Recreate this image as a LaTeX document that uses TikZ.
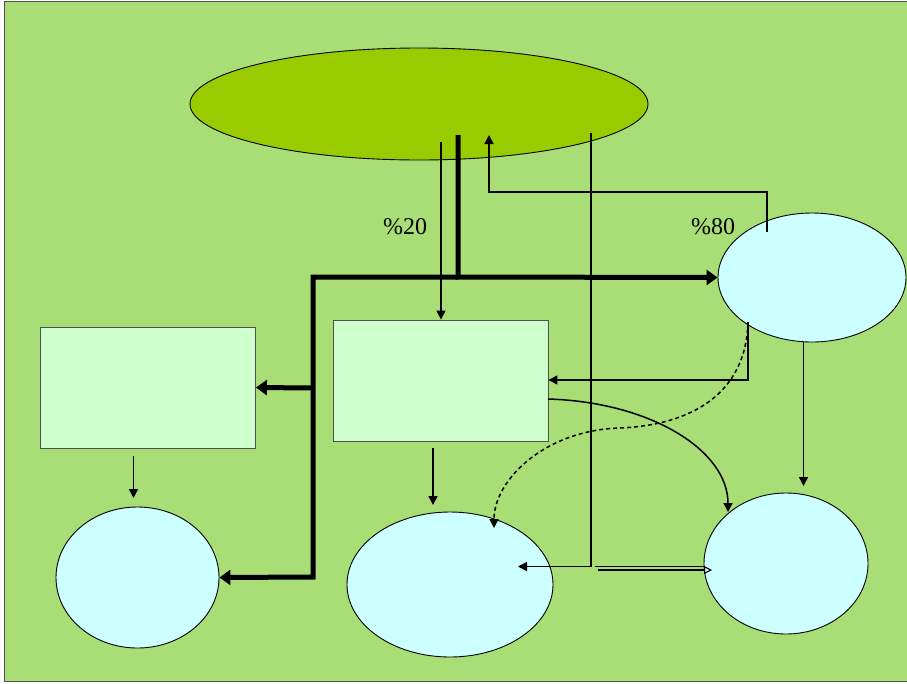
\documentclass[tikz,border=0pt]{standalone}
\usepackage{fontspec}
\setmainfont{Liberation Serif}
\usetikzlibrary{arrows.meta,shapes.geometric}
\definecolor{bggreen}{RGB}{169,221,118}
\definecolor{olive}{RGB}{153,204,0}
\definecolor{lcyan}{RGB}{204,255,255}
\definecolor{lgreen}{RGB}{204,255,204}
\definecolor{frame}{RGB}{80,80,80}
\tikzset{
  oval/.style={ellipse, draw=black, line width=0.9pt, inner sep=0pt},
  box/.style={rectangle, draw=frame, line width=0.9pt, fill=lgreen, inner sep=0pt, minimum width=215pt, minimum height=121pt},
  conn/.style={draw=black, line width=1.5pt, -{Triangle[length=9pt,width=9pt]}},
  thickflow/.style={draw=black, line width=5pt, line join=miter},
  thickarrow/.style={thickflow, -{Triangle[length=11pt,width=15pt]}},
  pct/.style={font=\fontsize{24}{28}\selectfont, inner sep=0pt}
}
\begin{document}
\begin{tikzpicture}[x=1pt,y=-1pt]
\useasboundingbox (0,0) rectangle (907,683);
\fill[white] (0,0) rectangle (907,683);
\filldraw[fill=bggreen, draw=frame, line width=1pt] (4,1) rectangle (908,681);

% shapes
\node[oval, fill=olive, minimum width=458pt, minimum height=112pt] (top) at (419,104) {};
\node[oval, fill=lcyan, minimum width=188pt, minimum height=129pt] (right) at (812,277.5) {};
\node[box] (lrect) at (148,387.5) {};
\node[box] (mrect) at (440.5,380.5) {};
\node[oval, fill=lcyan, minimum width=163pt, minimum height=141pt] (bl) at (137.5,577.5) {};
\node[oval, fill=lcyan, minimum width=206pt, minimum height=145pt] (bm) at (450,584.5) {};
\node[oval, fill=lcyan, minimum width=164pt, minimum height=141pt] (br) at (786,563.5) {};

% labels
\node[pct] (p20) at (405,227) {\%20};
\node[pct] (p80) at (713,227) {\%80};

% coordinates
\coordinate (tstart) at (458,135);
\coordinate (tj) at (458,277);
\coordinate (tl) at (313,277);
\coordinate (tb) at (313,577);
\coordinate (tm) at (313,388);
\coordinate (s20) at (441,142);
\coordinate (r1) at (767,232);
\coordinate (r2) at (767,192);
\coordinate (r3) at (489,192);
\coordinate (rend) at (489,135);
\coordinate (v1) at (591,133);
\coordinate (v2) at (591,566.5);
\coordinate (vend) at (518,566.5);
\coordinate (d1) at (595,566.5);
\coordinate (d2) at (704,566.5);
\coordinate (d3) at (598,570);
\coordinate (d4) at (712,570);
\coordinate (rb) at (748,322);
\coordinate (rc) at (748,380);
\coordinate (mid) at (620,428);
\coordinate (dend) at (494,528);
\coordinate (cstart) at (548,399);
\coordinate (cend) at (728,512);
\coordinate (rd1) at (803.5,342);
\coordinate (rd2) at (803.5,486);
\coordinate (ld1) at (133.5,456);
\coordinate (ld2) at (133.5,498);
\coordinate (md1) at (433,448);
\coordinate (md2) at (433,505);

% thick flow
\draw[thickarrow] (tstart) -- (tj) -- (right.west);
\draw[thickarrow] (tj) -- (tl) -- (tb) -- (bl.east);
\draw[thickarrow] (tm) -- (lrect.east);

% thin connectors
\draw[conn] (s20) -- (s20 |- mrect.north);
\draw[conn] (r1) -- (r2) -- (r3) -- (rend);
\draw[conn] (v1) -- (v2) -- (vend);
\draw[conn] (rb) -- (rc) -- (rc -| mrect.east);
\draw[conn, dash pattern=on 4pt off 3pt] (rb) .. controls (746,395) and (690,425) .. (mid) .. controls (545,430) and (494,480) .. (dend);
\draw[conn] (cstart) .. controls (650,402) and (728,450) .. (cend);
\draw[conn] (rd1) -- (rd2);
\draw[conn] (ld1) -- (ld2);
\draw[conn] (md1) -- (md2);

% double line arrow
\draw[line width=1.4pt] (d1) -- (d2);
\draw[line width=1.1pt, -{Triangle[open,length=8pt,width=8pt]}] (d3) -- (d4);
\end{tikzpicture}
\end{document}
